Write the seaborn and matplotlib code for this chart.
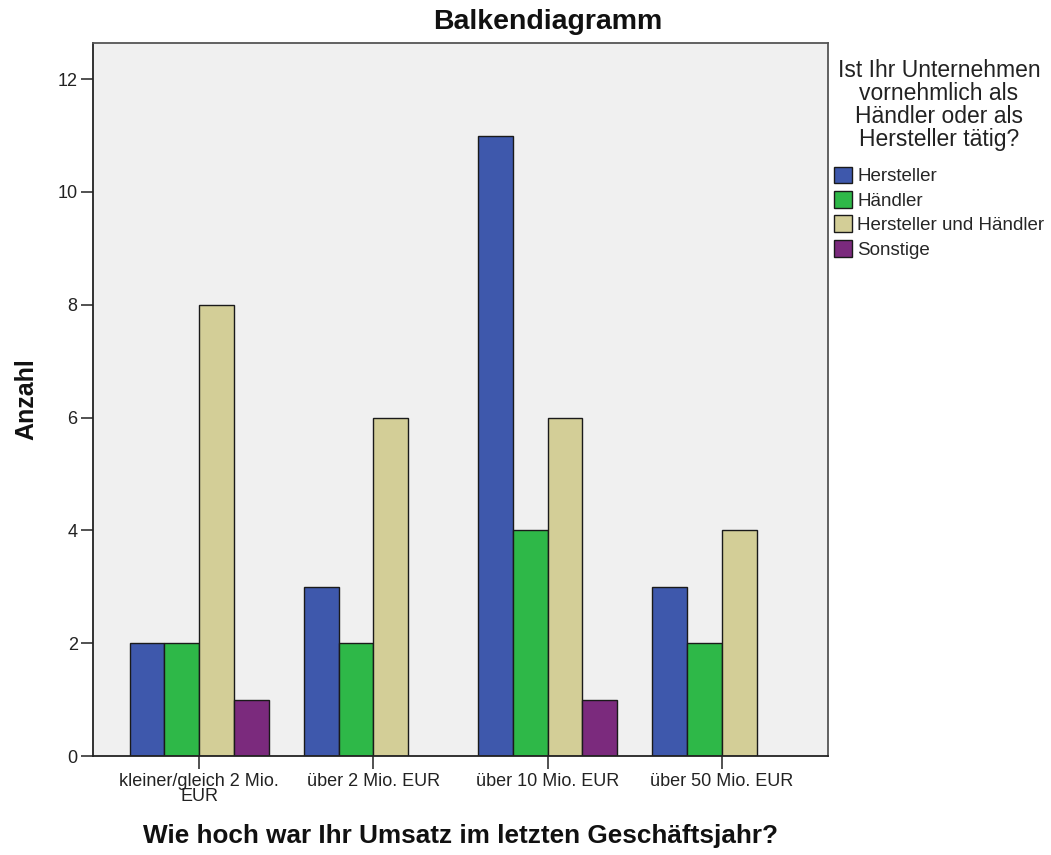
import pandas as pd
import matplotlib
matplotlib.use("Agg")
import matplotlib.pyplot as plt
import seaborn as sns

# Daten aus dem Balkendiagramm (Anzahl je Umsatzklasse und Tätigkeit)
categories = ["kleiner/gleich 2 Mio.\nEUR", "über 2 Mio. EUR", "über 10 Mio. EUR", "über 50 Mio. EUR"]
groups = ["Hersteller", "Händler", "Hersteller und Händler", "Sonstige"]
hersteller = [2, 3, 11, 3]
haendler = [2, 2, 4, 2]
beides = [8, 6, 6, 4]
sonstige = [1, None, 1, None]
colors = ["#3E58AC", "#2EB848", "#D3CE97", "#7B2A7D"]

rows = []
for grp, vals in zip(groups, [hersteller, haendler, beides, sonstige]):
    for cat, v in zip(categories, vals):
        if v is not None:
            rows.append({"Umsatz": cat, "Taetigkeit": grp, "Anzahl": v})
df = pd.DataFrame(rows)

sns.set_style("white")
plt.rcParams["font.family"] = ["Liberation Sans", "DejaVu Sans"]

fig = plt.figure(figsize=(10.51, 8.55), dpi=100)
ax = fig.add_axes([93 / 1051, 1 - 756 / 855, 735 / 1051, 713 / 855])
ax.set_facecolor("#F0F0F0")

sns.barplot(data=df, x="Umsatz", y="Anzahl", hue="Taetigkeit",
            order=categories, hue_order=groups, palette=colors,
            saturation=1, width=0.8, edgecolor="#1a1a1a", linewidth=1.0,
            errorbar=None, ax=ax)

ax.set_xlim(-0.61, 3.61)
ax.set_ylim(0, 12.64)
ax.set_yticks([0, 2, 4, 6, 8, 10, 12])
ax.tick_params(axis="both", direction="out", length=9, width=1.2, color="#333333",
               labelsize=13, labelcolor="#222222", bottom=True, left=True)
ax.tick_params(axis="x", pad=3)
ax.tick_params(axis="y", pad=2)
for lbl in ax.get_xticklabels():
    lbl.set_linespacing(0.85)

for side in ["left", "bottom"]:
    ax.spines[side].set_color("#222222")
    ax.spines[side].set_linewidth(1.3)
for side in ["top", "right"]:
    ax.spines[side].set_color("#555555")
    ax.spines[side].set_linewidth(1.3)

# Titel sitzt etwas rechts von der Achsenmitte
fig.text(548 / 1051, 1 - 22 / 855, "Balkendiagramm", fontsize=20.5, fontweight="bold",
         ha="center", va="center", color="#111111")
ax.set_xlabel("Wie hoch war Ihr Umsatz im letzten Geschäftsjahr?",
              fontsize=18.8, fontweight="bold", color="#111111")
ax.xaxis.set_label_coords(0.5, -(836 - 756) / 713)
ax.xaxis.label.set_va("center")
ax.set_ylabel("Anzahl", fontsize=18, fontweight="bold", color="#111111")
ax.yaxis.set_label_coords(-(93 - 26) / 735, 0.5)
ax.yaxis.label.set_va("center")

leg = ax.legend(title="Ist Ihr Unternehmen\nvornehmlich als\nHändler oder als\nHersteller tätig?",
                loc="upper left", bbox_to_anchor=(1.0, 0.985), frameon=False,
                fontsize=13.5, title_fontsize=16.5, handlelength=1.0, handleheight=1.0,
                handletextpad=0.25, labelspacing=0.3, borderaxespad=0.1, borderpad=0.2)
leg.get_title().set_multialignment("center")
leg.get_title().set_linespacing(1.0)
leg.get_title().set_color("#222222")
leg._legend_box.sep = 11
for h in leg.legend_handles:
    h.set_edgecolor("#1a1a1a")

fig.savefig("out.png", dpi=100)
